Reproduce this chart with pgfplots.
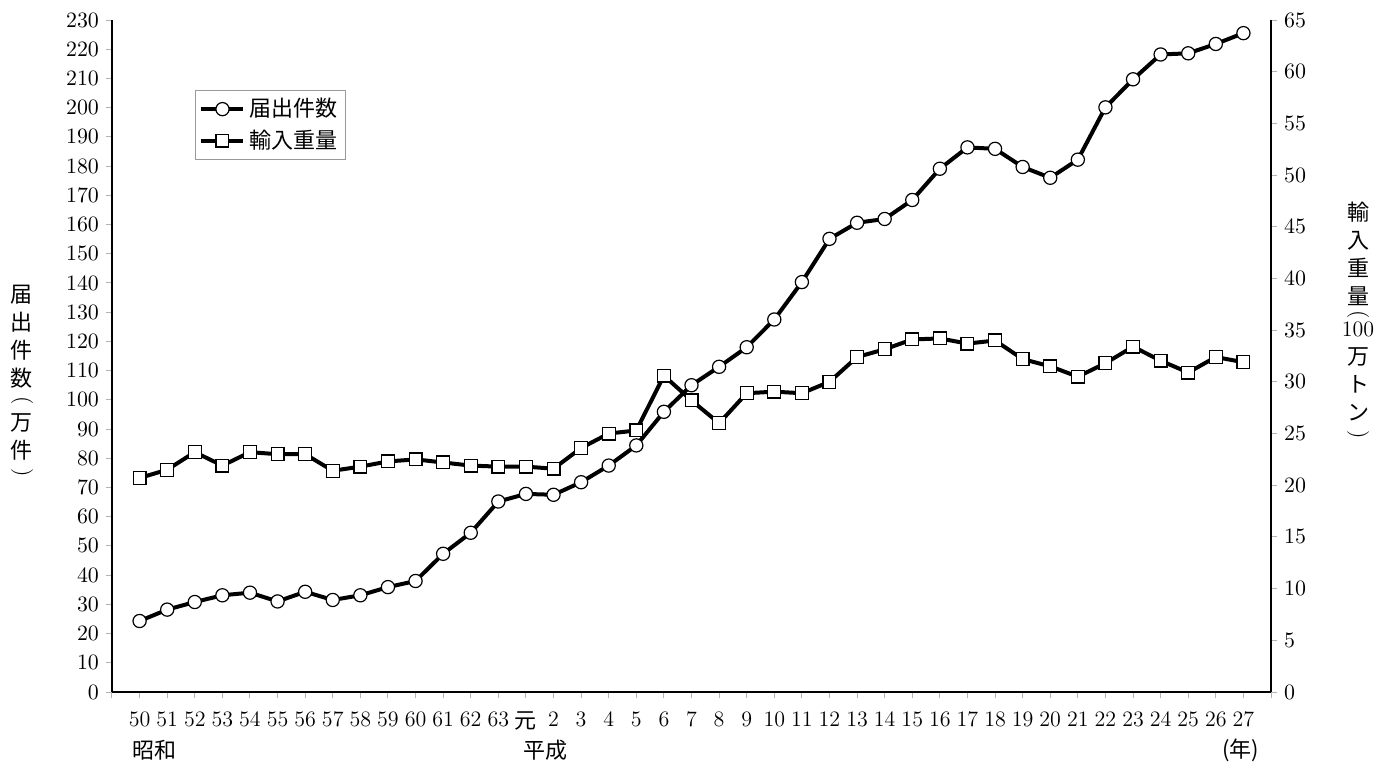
\documentclass[border=0pt]{standalone}
\usepackage{fontspec}
\usepackage{graphicx}
\usepackage{pgfplots}
\pgfplotsset{compat=1.18}
\usetikzlibrary{calc}
\newfontfamily\jp{Noto Sans CJK JP}
\newcommand{\vopen}{{\rmfamily\rotatebox[origin=c]{-90}{(}}}
\newcommand{\vclose}{{\rmfamily\rotatebox[origin=c]{-90}{)}}}

% 届出件数 (万件) and 輸入重量 (100万トン), 昭和50 - 平成27
\pgfplotstableread{
idx kensu juryo
0   24.3  20.7
1   28.2  21.5
2   30.8  23.2
3   33.1  21.9
4   34.0  23.2
5   31.0  23.0
6   34.3  23.0
7   31.5  21.4
8   33.1  21.8
9   35.9  22.3
10  38.0  22.5
11  47.3  22.2
12  54.5  21.9
13  65.2  21.8
14  67.8  21.8
15  67.5  21.6
16  71.8  23.6
17  77.5  25.0
18  84.4  25.3
19  95.9  30.6
20  105.0 28.2
21  111.3 26.0
22  118.0 28.9
23  127.5 29.05
24  140.3 28.9
25  155.1 30.0
26  160.6 32.4
27  161.9 33.15
28  168.4 34.1
29  179.1 34.2
30  186.4 33.7
31  185.9 34.0
32  179.7 32.2
33  176.0 31.5
34  182.2 30.5
35  200.1 31.8
36  209.7 33.4
37  218.2 32.05
38  218.6 30.9
39  221.8 32.4
40  225.5 31.9
}\data

\pgfplotsset{
  common/.style={
    scale only axis, width=579.5pt, height=336pt,
    xmin=-1, xmax=41, clip=false,
    tick align=outside, major tick length=3pt,
    tick style={gray!60, line width=0.5pt},
    axis line style={black, line width=0.6pt},
    tick label style={font=\fontsize{11}{12}\selectfont},
  },
  kensu/.style={black, line width=2pt, mark=*, mark size=3.3pt,
    mark options={fill=white, draw=black, line width=0.6pt}},
  juryo/.style={black, line width=2pt, mark=square*, mark size=3.2pt,
    mark options={fill=white, draw=black, line width=0.6pt}},
}

\begin{document}
\begin{tikzpicture}
\begin{axis}[common, name=ax,
    axis x line*=bottom, axis y line*=left,
    ymin=0, ymax=230, ytick={0,10,...,230},
    xtick={-1,0,...,41},
    xticklabels={,50,51,52,53,54,55,56,57,58,59,60,61,62,63,{\jp 元},2,3,4,5,6,7,8,9,10,11,12,13,14,15,16,17,18,19,20,21,22,23,24,25,26,27,},
    xticklabel style={yshift=-3.5pt},
]
\addplot[kensu] table[x=idx, y=kensu] {\data};
\node[anchor=west, yshift=-29pt, font=\jp\fontsize{11}{13}\selectfont] at (axis cs:-0.5,0) {昭和};
\node[yshift=-29pt, font=\jp\fontsize{11}{13}\selectfont] at (axis cs:14.7,0) {平成};
\node[yshift=-29pt, font=\jp\fontsize{11}{13}\selectfont] at (axis cs:39.9,0) {(年)};
\node[xshift=-45pt, align=center, font=\jp\fontsize{11}{14}\selectfont] at (rel axis cs:0,0.462)
  {届\\出\\件\\数\\[-4pt]\vopen\\[-2pt]万\\件\\[-4pt]\vclose};
\end{axis}
\begin{axis}[common,
    axis x line=none, axis y line*=right,
    ymin=0, ymax=65, ytick={0,5,...,65},
    legend style={at={(0.0716,0.896)}, anchor=north west, draw=gray!80,
      line width=0.5pt, font=\jp\fontsize{11}{13}\selectfont,
      row sep=1pt, inner sep=2pt},
    legend cell align=left,
    legend image code/.code={\draw[mark repeat=2,mark phase=2] plot coordinates {(0pt,0pt) (10.5pt,0pt) (21pt,0pt)};},
]
\addlegendimage{kensu}
\addlegendentry{届出件数}
\addplot[juryo] table[x=idx, y=juryo] {\data};
\addlegendentry{輸入重量}
\node[xshift=43.5pt, align=center, font=\jp\fontsize{11}{14}\selectfont] at (rel axis cs:1,0.552)
  {輸\\入\\重\\量\\[-6pt]\vopen\\[-6pt]{\rmfamily 100}\\万\\ト\\ン\\[-4pt]\vclose};
\end{axis}
\pgfresetboundingbox
\path ($(ax.south west)+(-56pt,-37.5pt)$) rectangle ($(ax.north east)+(60pt,10pt)$);
\end{tikzpicture}
\end{document}
